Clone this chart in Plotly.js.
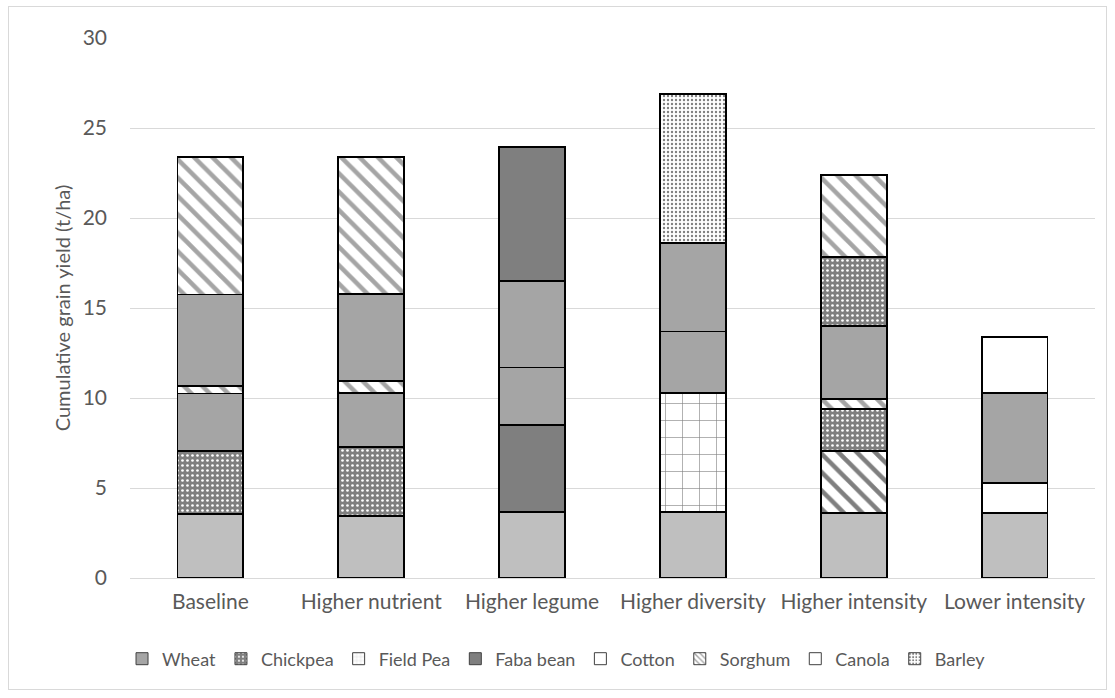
<!DOCTYPE html>
<html>
<head>
<meta charset="utf-8">
<script src="https://cdn.plot.ly/plotly-3.0.1.min.js"></script>
<style>
  html, body { margin: 0; padding: 0; background: #ffffff; }
  #chart { position: absolute; left: 0; top: 0; width: 1115px; height: 698px; }
  #frame { position: absolute; left: 8px; top: 6px; width: 1097px; height: 682px;
           border: 1px solid #d9d9d9; pointer-events: none; }
</style>
</head>
<body>
<div id="chart"></div>
<div id="frame"></div>
<script>
// Rotation scenarios on the x axis
const categories = ['Baseline', 'Higher nutrient', 'Higher legume',
                    'Higher diversity', 'Higher intensity', 'Lower intensity'];

// Grain yield of each crop in the sequence (t/ha), stacked bottom to top
const crop1 = [3.55, 3.44, 3.67, 3.65, 3.63, 3.59];
const crop2 = [3.51, 3.86, 4.81, 6.61, 3.44, 1.67];
const crop3 = [3.19, 2.96, 3.21, 3.44, 2.30, 5.04];
const crop4 = [0.43, 0.70, 4.83, 4.89, 0.57, 3.11];
const crop5 = [5.07, 4.80, 7.44, 8.31, 4.06, null];
const crop6 = [7.62, 7.61, null, null, 3.85, null];
const crop7 = [null, null, null, null, 4.54, null];

// Which crop each stacked segment is
const kind1 = ['Wheat1', 'Wheat1', 'Wheat1', 'Wheat1', 'Wheat1', 'Wheat1'];
const kind2 = ['Chickpea', 'Chickpea', 'Faba bean', 'Field Pea', 'Sorghum2', 'Cotton'];
const kind3 = ['Wheat', 'Wheat', 'Wheat', 'Wheat', 'Chickpea', 'Wheat'];
const kind4 = ['Sorghum', 'Sorghum', 'Wheat', 'Wheat', 'Sorghum', 'Canola'];
const kind5 = ['Wheat', 'Wheat', 'Faba bean', 'Barley', 'Wheat', null];
const kind6 = ['Sorghum', 'Sorghum', null, null, 'Chickpea', null];
const kind7 = [null, null, null, null, 'Sorghum', null];

// Legend entries
const legendNames = ['Wheat', 'Chickpea', 'Field Pea', 'Faba bean', 'Cotton', 'Sorghum', 'Canola', 'Barley'];

// Fill style of every crop
const styles = {
  'Wheat1':    {bg: '#bfbfbf', shape: '',   fg: '#bfbfbf', size: 8,  solidity: 0.3},
  'Wheat':     {bg: '#a5a5a5', shape: '',   fg: '#a5a5a5', size: 8,  solidity: 0.3},
  'Chickpea':  {bg: '#7f7f7f', shape: '.',  fg: '#ffffff', size: 5,  solidity: 0.22},
  'Field Pea': {bg: '#ffffff', shape: '+',  fg: '#808080', size: 17, solidity: 0.07},
  'Faba bean': {bg: '#7f7f7f', shape: '',   fg: '#7f7f7f', size: 8,  solidity: 0.3},
  'Cotton':    {bg: '#ffffff', shape: '',   fg: '#ffffff', size: 8,  solidity: 0.3},
  'Sorghum':   {bg: '#ffffff', shape: '\\', fg: '#a5a5a5', size: 13, solidity: 0.35},
  'Sorghum2':  {bg: '#ffffff', shape: '\\', fg: '#7f7f7f', size: 13, solidity: 0.35},
  'Canola':    {bg: '#ffffff', shape: '',   fg: '#ffffff', size: 8,  solidity: 0.3},
  'Barley':    {bg: '#ffffff', shape: '.',  fg: '#808080', size: 4,  solidity: 0.28}
};

const layers = [crop1, crop2, crop3, crop4, crop5, crop6, crop7];
const kinds = [kind1, kind2, kind3, kind4, kind5, kind6, kind7];

function markerFor(s, lineColor, lineWidth, size) {
  return {
    color: s.bg,
    line: {color: lineColor, width: lineWidth},
    pattern: {shape: s.shape, fgcolor: s.fg, bgcolor: s.bg,
              size: size, solidity: s.solidity, fillmode: 'replace'}
  };
}

// One trace per crop within each layer, layers stacked in order
const traces = [];
layers.forEach((vals, i) => {
  const seen = [];
  kinds[i].forEach(k => { if (k && seen.indexOf(k) < 0) seen.push(k); });
  seen.forEach(k => {
    traces.push({
      type: 'bar',
      x: categories,
      y: vals.map((v, j) => (kinds[i][j] === k ? v : null)),
      name: k,
      showlegend: false,
      hoverinfo: 'x+y',
      marker: markerFor(styles[k], '#000000', 1.8, styles[k].size)
    });
  });
});

// Legend-only entries, one per crop
legendNames.forEach(name => {
  const s = styles[name];
  traces.push({
    type: 'bar',
    x: [categories[0]],
    y: [null],
    name: name,
    showlegend: true,
    hoverinfo: 'skip',
    marker: markerFor(s, '#404040', 1, Math.min(s.size, 5))
  });
});

const font = {family: 'Lato, "Open Sans", sans-serif', size: 21, color: '#595959'};

const layout = {
  width: 1115,
  height: 698,
  margin: {l: 130, r: 20, t: 38, b: 120},
  paper_bgcolor: '#ffffff',
  plot_bgcolor: '#ffffff',
  barmode: 'stack',
  bargap: 0.59,
  font: font,
  xaxis: {
    type: 'category',
    showgrid: false,
    zeroline: false,
    showline: true,
    linecolor: '#d9d9d9',
    linewidth: 1,
    ticks: '',
    tickfont: font,
    ticklabelstandoff: 5
  },
  yaxis: {
    range: [0, 30],
    dtick: 5,
    tick0: 0,
    showgrid: true,
    gridcolor: '#d9d9d9',
    gridwidth: 1,
    zeroline: false,
    showline: false,
    ticks: '',
    tickfont: font,
    ticklabelstandoff: 22,
    title: {text: 'Cumulative grain yield (t/ha)',
            font: {family: 'Lato, "Open Sans", sans-serif', size: 20, color: '#595959'},
            standoff: 6}
  },
  legend: {
    orientation: 'h',
    x: 0.442,
    xanchor: 'center',
    y: -0.15,
    yanchor: 'middle',
    font: {family: 'Lato, "Open Sans", sans-serif', size: 18, color: '#595959'},
    itemwidth: 30,
    traceorder: 'normal'
  }
};

Plotly.newPlot('chart', traces, layout, {displayModeBar: false, staticPlot: true});
</script>
</body>
</html>
